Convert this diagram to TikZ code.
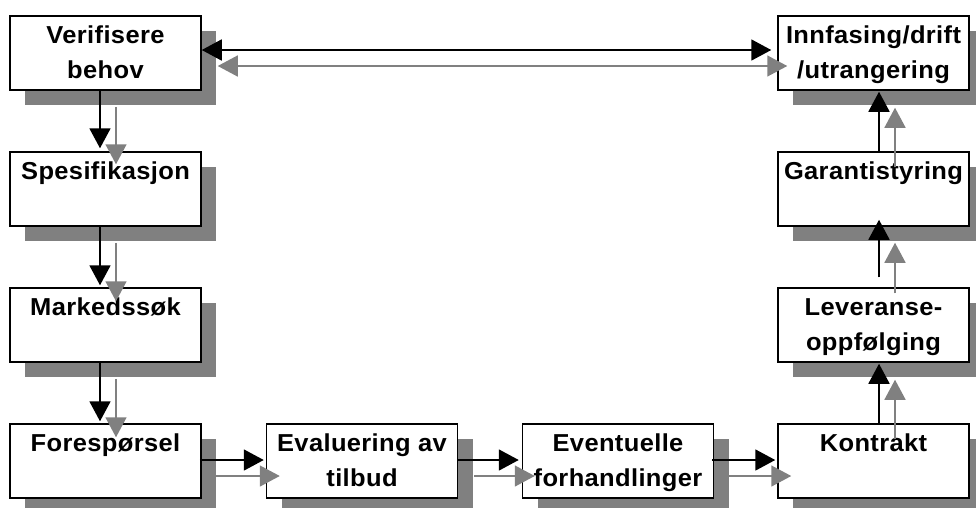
\documentclass[tikz,border=0pt]{standalone}
\usepackage{fontspec}
\setmainfont{Liberation Sans}[LetterSpace=1.5,FakeStretch=1.04]
\usetikzlibrary{arrows.meta,shadows,calc}
\definecolor{shd}{HTML}{808080}
\tikzset{
 box/.style={draw, line width=1.5pt, fill=white, inner sep=0pt, minimum width=191pt, minimum height=74pt,
   drop shadow={shadow xshift=15pt, shadow yshift=-15pt, fill=shd, opacity=1}},
 barrow/.style={draw=black, line width=1.8pt, -{Triangle[length=20pt,width=21pt]}},
 garrow/.style={draw=shd, line width=1.5pt, -{Triangle[length=20pt,width=21pt]}},
}
\newcommand\bxt[2]{\parbox[c][74pt][t]{191pt}{\centering\fontsize{24.5}{35}\selectfont\bfseries\rule{0pt}{27pt}#1\\\mbox{}#2}}
\newcommand\arrpair[4]{%
 \draw[garrow] ($(#1)+(#2)+(16,16)$) -- ($(#3)+(#4)+(16,16)$);
 \draw[barrow] ($(#1)+(#2)$) -- ($(#3)+(#4)$);}
\begin{document}
\begin{tikzpicture}[x=1pt,y=-1pt]
\useasboundingbox (0,0) rectangle (976,507);
\node[box] (v) at (105.5,53) {\bxt{Verifisere}{behov}};
\node[box] (s) at (105.5,189) {\bxt{Spesifikasjon}{}};
\node[box] (m) at (105.5,325) {\bxt{Markedssøk}{}};
\node[box] (f) at (105.5,461) {\bxt{Forespørsel}{}};
\node[box] (e) at (362,461) {\bxt{Evaluering av}{tilbud}};
\node[box] (h) at (618,461) {\bxt{Eventuelle}{forhandlinger}};
\node[box] (k) at (873.5,461) {\bxt{Kontrakt}{}};
\node[box] (l) at (873.5,325) {\bxt{Leveranse-}{oppfølging}};
\node[box] (g) at (873.5,189) {\bxt{Garantistyring}{}};
\node[box] (i) at (873.5,53) {\bxt{Innfasing/drift}{/utrangering}};
% top double arrow
\draw[garrow,{Triangle[length=20pt,width=21pt]}-{Triangle[length=20pt,width=21pt]}] ($(v.east)+(16,13)$) -- ($(i.west)+(10,13)$);
\draw[barrow,{Triangle[length=20pt,width=21pt]}-{Triangle[length=20pt,width=21pt]}] ($(v.east)+(0,-3)$) -- ($(i.west)+(-6,-3)$);
% left column
\arrpair{v.south}{-5.5,0}{s.north}{-5.5,-3}
\arrpair{s.south}{-5.5,0}{m.north}{-5.5,-2}
\arrpair{m.south}{-5.5,0}{f.north}{-5.5,-2}
% bottom row
\arrpair{f.east}{-2,-1}{e.west}{-2,-1}
\arrpair{e.east}{0,-1}{h.west}{-3,-1}
\arrpair{h.east}{-2,-1}{k.west}{-2,-1}
% right column
\arrpair{k.north}{5.5,0}{l.south}{5.5,1}
\draw[garrow] ($(l.north)+(21.5,6)$) -- ($(g.south)+(21.5,16)$);
\draw[barrow] ($(l.north)+(5.5,-10)$) -- ($(g.south)+(5.5,-7)$);
\arrpair{g.north}{5.5,0}{i.south}{5.5,1}
\end{tikzpicture}
\end{document}
